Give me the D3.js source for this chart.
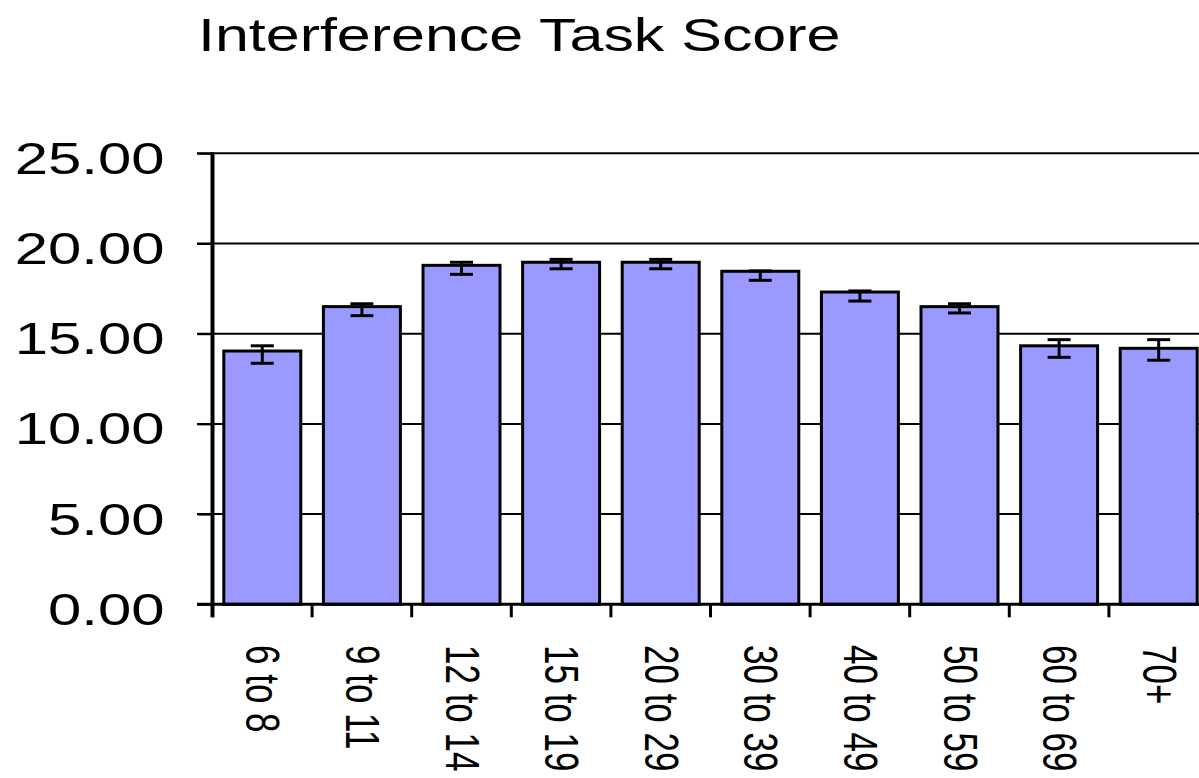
<!DOCTYPE html>
<html>
<head>
<meta charset="utf-8">
<script src="https://cdn.jsdelivr.net/npm/d3@7"></script>
<style>
  html, body { margin: 0; padding: 0; background: #fff; overflow: hidden; }
  text { font-family: "Liberation Sans", Arial, sans-serif; fill: #000; }
</style>
</head>
<body>
<svg id="chart" width="1199" height="778"></svg>
<script>
const title = "Interference Task Score";
const categories = ["6 to 8", "9 to 11", "12 to 14", "15 to 19", "20 to 29", "30 to 39", "40 to 49", "50 to 59", "60 to 69", "70+"];
const values  = [14.04, 16.50, 18.79, 18.96, 18.96, 18.46, 17.31, 16.50, 14.33, 14.19];
const errHigh = [14.33, 16.66, 18.96, 19.12, 19.12, 18.48, 17.37, 16.66, 14.67, 14.67];
const errLow  = [13.36, 16.00, 18.29, 18.60, 18.60, 17.96, 16.81, 16.15, 13.69, 13.53];
const yTicks = [0, 5, 10, 15, 20, 25];

const svg = d3.select("#chart");
const W = 1199, H = 778;
svg.append("rect").attr("width", W).attr("height", H).attr("fill", "#fff");

const x = d3.scaleBand().domain(categories).range([212.5, 1208.5]).paddingInner(0.227).paddingOuter(0.1135);
const y = d3.scaleLinear().domain([0, 25]).range([604.3, 153.3]);
const step = x.step();

// Title (horizontally stretched like the reference)
svg.append("g").attr("transform", "translate(198,51) scale(1.325,1)")
  .append("text").attr("font-size", 46).text(title);

// Gridlines (excluding 0)
svg.append("g").selectAll("line").data(yTicks.filter(d => d > 0)).join("line")
  .attr("x1", 197).attr("x2", W + 20)
  .attr("y1", d => y(d)).attr("y2", d => y(d))
  .attr("stroke", "#000").attr("stroke-width", 2);

// Y axis via d3.axisLeft, then restyle
const yAxis = svg.append("g").attr("transform", "translate(212.5,0)")
  .call(d3.axisLeft(y).tickValues(yTicks).tickSize(15).tickFormat(d3.format(".2f")));
yAxis.select(".domain").remove();
yAxis.selectAll(".tick line").attr("stroke", "#000").attr("stroke-width", 2);
yAxis.selectAll(".tick text").remove();
yAxis.selectAll(".tick").append("g")
  .attr("transform", "translate(-48,20) scale(1.36,1)")
  .append("text").attr("text-anchor", "end").attr("font-size", 44)
  .text(d => d3.format(".2f")(d));

// Bars
svg.append("g").selectAll("rect").data(categories).join("rect")
  .attr("x", d => x(d))
  .attr("width", x.bandwidth())
  .attr("y", (d, i) => y(values[i]))
  .attr("height", (d, i) => y(0) - y(values[i]))
  .attr("fill", "#9999FF").attr("stroke", "#000").attr("stroke-width", 3);

// Error bars
const eb = svg.append("g").selectAll("g").data(categories).join("g")
  .attr("transform", d => `translate(${x(d) + x.bandwidth() / 2},0)`);
eb.append("line").attr("x1", 0).attr("x2", 0)
  .attr("y1", (d, i) => y(errHigh[i])).attr("y2", (d, i) => y(errLow[i]))
  .attr("stroke", "#000").attr("stroke-width", 3);
eb.append("line").attr("x1", -11.5).attr("x2", 11.5)
  .attr("y1", (d, i) => y(errHigh[i])).attr("y2", (d, i) => y(errHigh[i]))
  .attr("stroke", "#000").attr("stroke-width", 3);
eb.append("line").attr("x1", -11.5).attr("x2", 11.5)
  .attr("y1", (d, i) => y(errLow[i])).attr("y2", (d, i) => y(errLow[i]))
  .attr("stroke", "#000").attr("stroke-width", 3);

// X axis line
svg.append("line").attr("x1", 197).attr("x2", W + 20)
  .attr("y1", y(0)).attr("y2", y(0)).attr("stroke", "#000").attr("stroke-width", 3);

// X ticks at band boundaries
const boundaries = categories.map(c => x(c) - (step - x.bandwidth()) / 2);
boundaries.push(boundaries[boundaries.length - 1] + step);
svg.append("g").selectAll("line").data(boundaries).join("line")
  .attr("x1", d => d).attr("x2", d => d)
  .attr("y1", y(0)).attr("y2", y(0) + 13)
  .attr("stroke", "#000").attr("stroke-width", 3);

// Y axis line
svg.append("line").attr("x1", 212.5).attr("x2", 212.5)
  .attr("y1", y(25) - 1).attr("y2", y(0) + 13)
  .attr("stroke", "#000").attr("stroke-width", 4);

// X labels rotated (glyphs stretched horizontally on screen, like the reference)
svg.append("g").selectAll("text").data(categories).join("text")
  .attr("transform", d => `translate(${x(d) + x.bandwidth() / 2 - 16},645) scale(1.35,1) rotate(90)`)
  .attr("font-size", 35)
  .text(d => d);
</script>
</body>
</html>
